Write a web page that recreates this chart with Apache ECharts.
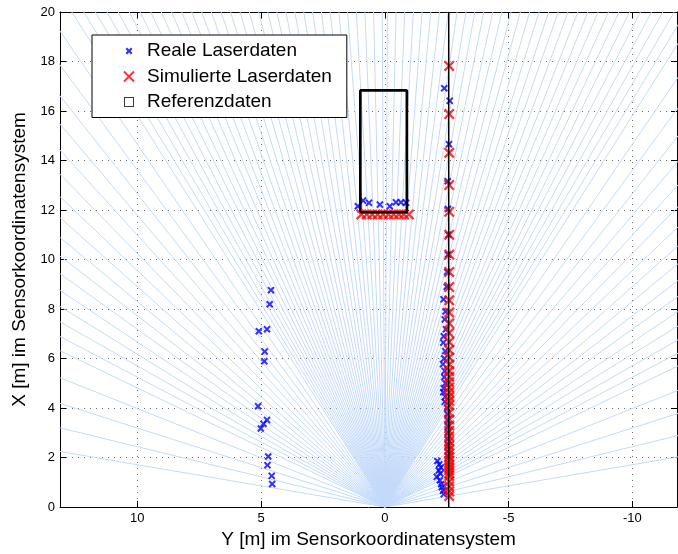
<!DOCTYPE html>
<html>
<head>
<meta charset="utf-8">
<title>Laserdaten im Sensorkoordinatensystem</title>
<script src="https://cdn.jsdelivr.net/npm/echarts@6/dist/echarts.min.js"></script>
<style>
  html, body { margin: 0; padding: 0; background: #fff; }
  #chart { width: 678px; height: 554px; }
</style>
</head>
<body>
<div id="chart"></div>
<script>
// Beam directions of the scanner in degrees from the forward (X) axis, positive towards +Y.
const beamAnglesLeft = [80.3, 76.3, 72.3, 68.3, 64.3, 62.3, 60.3, 58.3, 56.3, 54.3, 52.3, 50.3,
  48.3, 46.3, 44.3, 42.3, 40.3, 38.3, 36.3, 34.3, 32.3, 31.3, 30.3, 29.3, 28.3, 27.3, 26.3,
  25.3, 24.3, 23.3, 22.3, 21.3, 20.3, 19.3, 18.3, 17.3, 16.3, 15.3, 14.3, 13.3, 12.3, 11.3,
  10.3, 9.3, 8.3, 7.3, 6.3, 5.3, 4.3, 3.3, 2.3, 1.3, 0.3];
const beamAnglesRight = [-0.3, -1.3, -2.3, -3.3, -4.3, -5.3, -6.3, -7.3, -8.3, -9.3, -10.3,
  -11.3, -12.3, -13.3, -14.3, -15.3, -16.3, -17.3, -18.3, -19.3, -20.3, -21.3, -22.3, -23.3,
  -24.3, -25.3, -26.3, -27.3, -28.3, -29.3, -30.3, -31.3, -32.3, -34.3, -36.3, -38.3, -40.3,
  -42.3, -44.3, -46.3, -48.3, -50.3, -52.3, -54.3, -56.3, -58.3, -60.3, -62.3, -64.3, -68.3,
  -72.3, -76.3, -80.3];
const beamLength = 40; // metres; beams run past the axes and are clipped there

// Measured points [Y, X] in metres
const realLeftObject = [[4.60, 8.76], [4.65, 8.19], [5.09, 7.10], [4.76, 7.18], [4.85, 6.28],
  [4.87, 5.89], [5.12, 4.07], [4.76, 3.52], [4.90, 3.36], [5.01, 3.17], [4.71, 2.04],
  [4.74, 1.69], [4.57, 1.26], [4.55, 0.93]];
const realVehicleRear = [[1.09, 12.15], [0.88, 12.38], [0.64, 12.29], [0.20, 12.22],
  [-0.20, 12.15], [-0.45, 12.31], [-0.65, 12.31], [-0.86, 12.29]];
const realWall = [[-2.40, 16.92], [-2.62, 16.41], [-2.59, 14.66], [-2.54, 13.16], [-2.55, 12.04],
  [-2.57, 11.00], [-2.55, 10.20], [-2.52, 9.50], [-2.50, 8.90], [-2.37, 8.39], [-2.45, 7.90],
  [-2.42, 7.58], [-2.47, 7.18], [-2.38, 6.90], [-2.36, 6.64], [-2.44, 6.30], [-2.40, 6.00],
  [-2.35, 5.77], [-2.42, 5.50], [-2.40, 5.25], [-2.45, 5.00], [-2.38, 4.80], [-2.36, 4.64],
  [-2.44, 4.45], [-2.42, 4.25], [-2.52, 4.00], [-2.53, 3.75], [-2.54, 3.50], [-2.55, 3.25],
  [-2.55, 3.00], [-2.55, 2.75], [-2.55, 2.50], [-2.54, 2.25], [-2.55, 2.05]];
const realWallNear = [[-2.12, 1.86], [-2.20, 1.72], [-2.26, 1.60], [-2.18, 1.47], [-2.24, 1.35],
  [-2.10, 1.22], [-2.22, 1.08], [-2.28, 0.92], [-2.30, 0.80], [-2.35, 0.66], [-2.38, 0.52]];

// Simulated hits: on the wall (fixed Y, ranges X) and on the vehicle rear (fixed X, offsets Y)
const simWallY = -2.6;
const simWallX = [17.82, 15.88, 14.31, 13.01, 11.93, 11.00, 10.20, 9.50, 8.89, 8.35, 7.86, 7.42,
  7.03, 6.67, 6.34, 6.04, 5.76, 5.50, 5.26, 5.04, 4.83, 4.63, 4.45, 4.28, 4.11, 3.81, 3.54, 3.29,
  3.07, 2.86, 2.66, 2.48, 2.32, 2.16, 2.01, 1.87, 1.73, 1.61, 1.48, 1.36, 1.25, 1.03, 0.83,
  0.63, 0.44];
const simRearX = 11.82;
const simRearY = [0.95, 0.73, 0.51, 0.29, 0.07, -0.15, -0.36, -0.57, -0.77, -0.97];

// Reference objects [Y, X]
const referenceBox = [[0.99, 11.91], [0.99, 16.83], [-0.89, 16.83], [-0.89, 11.91], [0.99, 11.91]];
const referenceWall = [[-2.58, 0], [-2.58, 20]];

// Axis limits (Y axis drawn mirrored, +Y to the left)
const yRange = [-11.8, 13.12];
const xRange = [0, 20];

const seriesNames = ['Reale Laserdaten', 'Simulierte Laserdaten', 'Referenzdaten'];

const crossSymbol = 'path://M0,1.45L1.45,0L5,3.55L8.55,0L10,1.45L6.45,5L10,8.55L8.55,10L5,6.45L1.45,10L0,8.55L3.55,5Z';
const boldCrossSymbol = 'path://M0,1.9L1.9,0L5,3.1L8.1,0L10,1.9L6.9,5L10,8.1L8.1,10L5,6.9L1.9,10L0,8.1L3.1,5Z';
const legendSmallCross = 'path://M0,0M12,12M2.5,4.1L4.1,2.5L6,4.4L7.9,2.5L9.5,4.1L7.6,6L9.5,7.9L7.9,9.5L6,7.6L4.1,9.5L2.5,7.9L4.4,6Z';
const legendCross = 'path://M0,0M12,12M0.3,1.7L1.7,0.3L6,4.6L10.3,0.3L11.7,1.7L7.4,6L11.7,10.3L10.3,11.7L6,7.4L1.7,11.7L0.3,10.3L4.6,6Z';
const legendSquare = 'path://M0,0M12,12M1,1H11V11H1ZM2,2V10H10V2Z';

const toRad = Math.PI / 180;
const beamSeries = beamAnglesLeft.concat(beamAnglesRight).map(a => ({
  type: 'line',
  name: 'beam',
  silent: true,
  symbol: 'none',
  animation: false,
  clip: true,
  z: 1,
  lineStyle: { color: 'rgb(196,218,250)', width: 1 },
  data: [[0, 0], [beamLength * Math.sin(a * toRad), beamLength * Math.cos(a * toRad)]]
}));

const realPoints = realLeftObject.concat(realVehicleRear, realWall, realWallNear);
const simPoints = simWallX.map(x => [simWallY, x]).concat(simRearY.map(y => [y, simRearX]));

const fontFamily = '"Liberation Sans", Arial, Helvetica, sans-serif';
const tickFont = { fontFamily, fontSize: 13, color: '#000' };
const frameLine = { show: true, onZero: false, lineStyle: { color: '#000', width: 1 } };
const innerTicks = { show: true, inside: true, length: 6, lineStyle: { color: '#000', width: 1 } };
const gridDots = { show: true, lineStyle: { color: '#6e6e6e', width: 1, type: [1, 5] } };

const chart = echarts.init(document.getElementById('chart'), null, { renderer: 'canvas' });
chart.setOption({
  animation: false,
  backgroundColor: '#fff',
  textStyle: { fontFamily },
  grid: { left: 60, right: 1, top: 12, bottom: 46, containLabel: false },
  legend: {
    data: [
      { name: seriesNames[0], icon: legendSmallCross },
      { name: seriesNames[1], icon: legendCross },
      { name: seriesNames[2], icon: legendSquare, itemStyle: { color: '#3a3a3a' } }
    ],
    orient: 'vertical',
    left: 92,
    top: 35,
    z: 10,
    padding: [6.5, 15, 6, 31],
    itemWidth: 26,
    itemHeight: 12,
    itemGap: 6.5,
    selectedMode: false,
    backgroundColor: '#fff',
    borderColor: '#000',
    borderWidth: 1,
    borderRadius: 0,
    itemStyle: { borderWidth: 0 },
    textStyle: { fontFamily, fontSize: 19, lineHeight: 19, color: '#000' }
  },
  xAxis: [
    {
      type: 'value', position: 'bottom', inverse: true,
      min: yRange[0], max: yRange[1], splitNumber: 5, minInterval: 5, maxInterval: 5,
      name: 'Y [m] im Sensorkoordinatensystem', nameLocation: 'middle', nameGap: 23,
      nameTextStyle: { fontFamily, fontSize: 19, color: '#000' },
      axisLine: frameLine, axisTick: innerTicks, splitLine: gridDots,
      axisLabel: Object.assign({ margin: 5, showMinLabel: false, showMaxLabel: false }, tickFont)
    },
    {
      type: 'value', position: 'top', inverse: true,
      min: yRange[0], max: yRange[1], splitNumber: 5, minInterval: 5, maxInterval: 5,
      axisLine: frameLine, axisTick: innerTicks, splitLine: { show: false },
      axisLabel: { show: false }
    }
  ],
  yAxis: [
    {
      type: 'value', position: 'left',
      min: xRange[0], max: xRange[1], interval: 2,
      name: 'X [m] im Sensorkoordinatensystem', nameLocation: 'middle', nameGap: 24,
      nameTextStyle: { fontFamily, fontSize: 19, color: '#000' },
      axisLine: frameLine, axisTick: innerTicks, splitLine: gridDots,
      axisLabel: Object.assign({ margin: 5 }, tickFont)
    },
    {
      type: 'value', position: 'right',
      min: xRange[0], max: xRange[1], interval: 2,
      axisLine: frameLine, axisTick: innerTicks, splitLine: { show: false },
      axisLabel: { show: false }
    }
  ],
  series: beamSeries.concat([
    {
      type: 'scatter', name: seriesNames[0], z: 3,
      symbol: boldCrossSymbol, symbolSize: 7.5,
      itemStyle: { color: '#0000ff' },
      emphasis: { disabled: true },
      data: realPoints
    },
    {
      type: 'scatter', name: seriesNames[1], z: 4,
      symbol: crossSymbol, symbolSize: 11,
      itemStyle: { color: '#ff0000' },
      emphasis: { disabled: true },
      data: simPoints
    },
    {
      type: 'line', name: seriesNames[2], z: 5, symbol: 'none',
      itemStyle: { color: '#000' },
      lineStyle: { color: '#000', width: 2.7 },
      emphasis: { disabled: true },
      data: referenceBox
    },
    {
      type: 'line', name: seriesNames[2], z: 5, symbol: 'none',
      itemStyle: { color: '#000' },
      lineStyle: { color: '#000', width: 1.5 },
      emphasis: { disabled: true },
      data: referenceWall
    }
  ])
});
</script>
</body>
</html>
